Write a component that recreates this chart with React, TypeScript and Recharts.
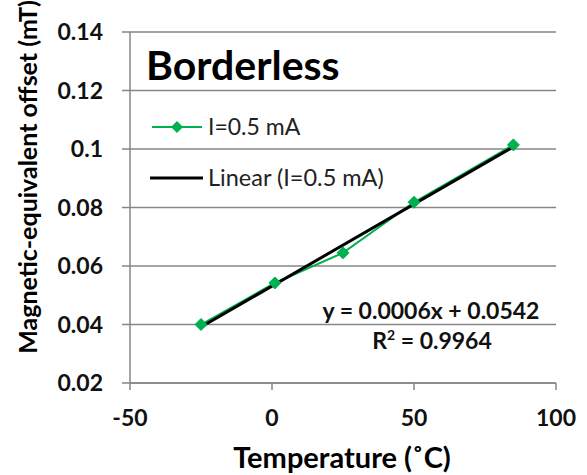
import React from "react";
import {
  ComposedChart,
  Line,
  XAxis,
  YAxis,
  CartesianGrid,
  Legend,
} from "recharts";

// temperature (deg C) and offset (mT) for I = 0.5 mA
const temperature = [-25, 1, 25, 50, 85];
const offsetHalfMa = [0.04, 0.0542, 0.0645, 0.0818, 0.1014];

const xTicks = [-50, 0, 50, 100];
const yTicks = [0.02, 0.04, 0.06, 0.08, 0.1, 0.12, 0.14];

const seriesName = "I=0.5 mA";
const trendName = "Linear (I=0.5 mA)";
const equationText = "y = 0.0006x + 0.0542";
const rSquaredText = "0.9964";

const GREEN = "#00b050";
const GRID = "#868686";
const FONT = "Lato, 'Open Sans', sans-serif";

const points = temperature.map((t, i) => ({ t, v: offsetHalfMa[i] }));

// least squares trendline over the data range (like Excel's)
const n = temperature.length;
const mx = temperature.reduce((a, b) => a + b, 0) / n;
const my = offsetHalfMa.reduce((a, b) => a + b, 0) / n;
let sxy = 0;
let sxx = 0;
temperature.forEach((t, i) => {
  sxy += (t - mx) * (offsetHalfMa[i] - my);
  sxx += (t - mx) * (t - mx);
});
const slope = sxy / sxx;
const intercept = my - slope * mx;
const tMin = Math.min(...temperature);
const tMax = Math.max(...temperature);
const trend = [
  { t: tMin, trend: intercept + slope * tMin },
  { t: tMax, trend: intercept + slope * tMax },
];

const Diamond = (props: any) => {
  const { cx, cy } = props;
  if (cx == null || cy == null) return null;
  const r = 6;
  return (
    <polygon
      points={`${cx},${cy - r} ${cx + r},${cy} ${cx},${cy + r} ${cx - r},${cy}`}
      fill={GREEN}
      stroke={GREEN}
    />
  );
};

const LegendBox = () => (
  <svg width={260} height={90} style={{ display: "block" }}>
    <line x1={2} y1={17} x2={52} y2={17} stroke={GREEN} strokeWidth={2} />
    <polygon points="27,11 33,17 27,23 21,17" fill={GREEN} />
    <text x={58} y={25} fontSize={23} fontFamily={FONT} fill="#222">
      {seriesName}
    </text>
    <line x1={0} y1={68} x2={53} y2={68} stroke="#000" strokeWidth={3} />
    <text x={58} y={76} fontSize={23.5} fontFamily={FONT} fill="#222">
      {trendName}
    </text>
  </svg>
);

export default function App() {
  return (
    <div
      style={{
        position: "absolute",
        left: 0,
        top: 0,
        width: 587,
        height: 475,
        background: "#fff",
      }}
    >
      <ComposedChart
        width={587}
        height={475}
        margin={{ top: 32, right: 31, bottom: 0, left: 0 }}
      >
        <CartesianGrid vertical={false} stroke={GRID} strokeWidth={1.5} />
        <XAxis
          type="number"
          dataKey="t"
          domain={[-50, 100]}
          ticks={xTicks}
          height={92}
          tickSize={7}
          tickMargin={20}
          stroke={GRID}
          strokeWidth={1.5}
          tick={{ fontSize: 23, fontWeight: 700, fill: "#111", fontFamily: FONT }}
          label={{
            content: () => (
              <text
                x={342}
                y={468}
                textAnchor="middle"
                fontSize={29}
                fontWeight={700}
                fontFamily={FONT}
                fill="#000"
              >
                Temperature (˚C)
              </text>
            ),
          }}
        />
        <YAxis
          type="number"
          domain={[0.02, 0.14]}
          ticks={yTicks}
          width={130}
          tickSize={8}
          tickMargin={19}
          stroke={GRID}
          strokeWidth={1.5}
          tick={{ fontSize: 23, fontWeight: 700, fill: "#111", fontFamily: FONT }}
          label={{
            content: () => (
              <text
                x={37}
                y={177}
                transform="rotate(-90 37 177)"
                textAnchor="middle"
                fontSize={25}
                fontWeight={700}
                fontFamily={FONT}
                fill="#000"
              >
                Magnetic-equivalent offset (mT)
              </text>
            ),
          }}
        />
        <Legend
          layout="horizontal"
          verticalAlign="middle"
          align="center"
          content={() => <LegendBox />}
          wrapperStyle={{ left: 150, top: 110, width: 260, height: 90 }}
        />
        <Line
          data={points}
          dataKey="v"
          name={seriesName}
          stroke={GREEN}
          strokeWidth={2}
          dot={<Diamond />}
          activeDot={false}
          isAnimationActive={false}
        />
        <Line
          data={trend}
          dataKey="trend"
          name={trendName}
          stroke="#000"
          strokeWidth={3}
          dot={false}
          activeDot={false}
          isAnimationActive={false}
        />
      </ComposedChart>
      <svg
        width={587}
        height={475}
        style={{ position: "absolute", left: 0, top: 0, pointerEvents: "none" }}
      >
        <text
          x={146}
          y={80}
          fontSize={41}
          fontWeight={700}
          fontFamily={FONT}
          fill="#000"
        >
          Borderless
        </text>
        <text
          x={431}
          y={319}
          textAnchor="middle"
          fontSize={23}
          fontWeight={700}
          fontFamily={FONT}
          fill="#111"
        >
          {equationText}
        </text>
        <text
          x={432}
          y={349}
          textAnchor="middle"
          fontSize={23}
          fontWeight={700}
          fontFamily={FONT}
          fill="#111"
        >
          R<tspan dy={-9} fontSize={14}>2</tspan>
          <tspan dy={9}> = {rSquaredText}</tspan>
        </text>
      </svg>
    </div>
  );
}
